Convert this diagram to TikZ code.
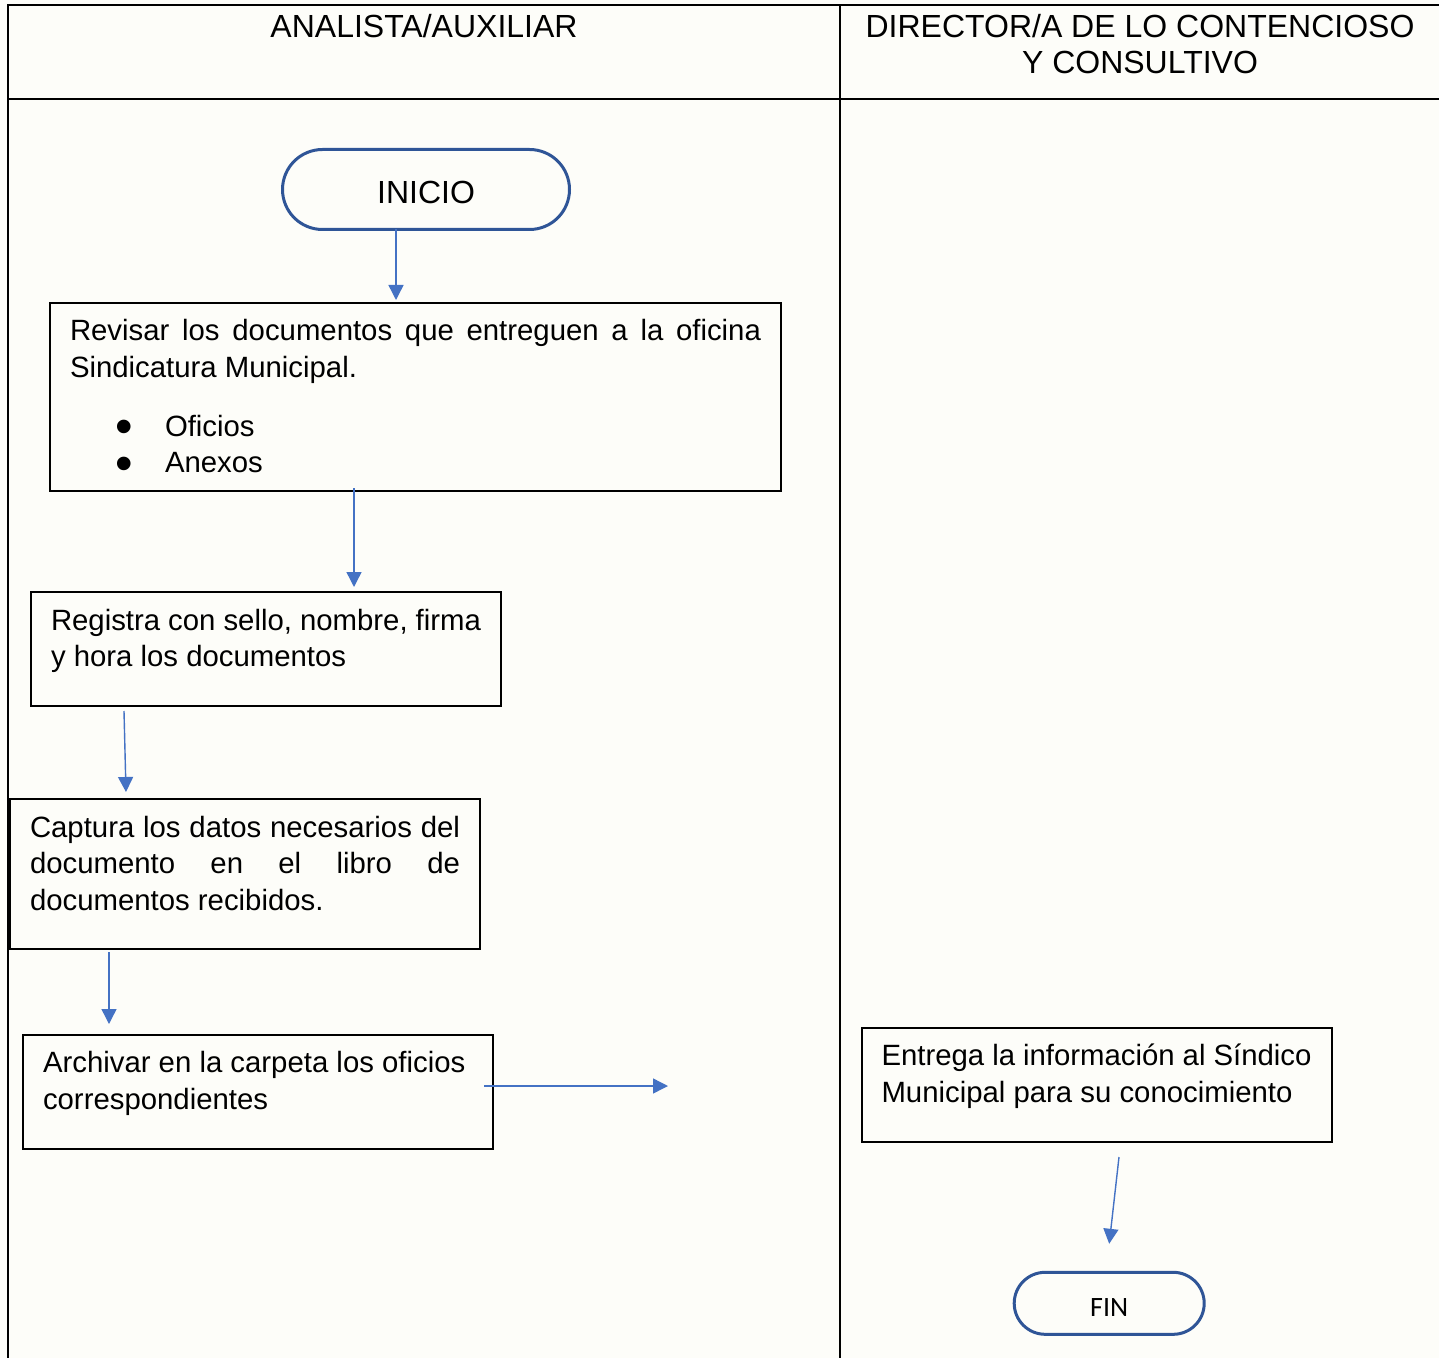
\documentclass[tikz,border=0pt]{standalone}
\usepackage{fontspec}
\setmainfont{Liberation Sans}
\newfontfamily\calfont{Carlito}
\usetikzlibrary{arrows.meta,calc}
\definecolor{bgcol}{RGB}{253,253,249}
\definecolor{arrowblue}{RGB}{68,114,196}
\definecolor{termblue}{RGB}{47,85,151}
\newcommand\procsize{\fontsize{14.67}{18.25}\selectfont}
\newcommand\procpar[3]{\parbox[t][#2][t]{#1}{\rule{0pt}{11pt}#3}}
\newcommand\bul{\makebox[47.5pt][l]{\hspace{22.6pt}\smash{\raisebox{-3.6pt}{\fontsize{25}{25}\selectfont\textbullet}}}}
\tikzset{
  lane/.style={draw=black, line width=1pt},
  procbox/.style={draw=black, line width=1pt, anchor=north west, inner xsep=10pt, inner ysep=8pt, font=\procsize},
  terminal/.style={draw=termblue, line width=1.5pt, inner sep=0pt},
  flow/.style={draw=arrowblue, line width=0.7pt, -{Triangle[length=7.5pt,width=7.5pt]}},
  header/.style={anchor=north, inner sep=0pt, align=center, font=\fontsize{16}{18}\selectfont}
}
\begin{document}
\begin{tikzpicture}[x=0.5pt,y=-0.5pt]
\useasboundingbox (0,0) rectangle (1439,1358);
\fill[bgcol] (0,0) rectangle (1439,1358);

% swimlane table
\draw[lane] (8,4.7) -- (1439,4.7);
\draw[lane] (8,99.5) -- (1439,99.5);
\draw[lane] (8,4.2) -- (8,1358);
\draw[lane] (840,4.2) -- (840,1358);

\node[header] (hdrA) at (424,13.5) {ANALISTA/AUXILIAR};
\node[header] (hdrB) at (1140,13.5) {DIRECTOR/A DE LO CONTENCIOSO\\Y CONSULTIVO};

% terminals
\node[terminal, minimum width=143.5pt, minimum height=40pt, rounded corners=20pt,
      text height=14.5pt, text depth=0pt,
      font=\fontsize{16}{18}\selectfont] (inicio) at (426,189.5) {INICIO};
\node[terminal, minimum width=95pt, minimum height=31pt, rounded corners=15.5pt,
      text height=12.7pt, text depth=0pt,
      font=\calfont\fontsize{14}{16}\selectfont] (fin) at (1109.2,1303.3) {FIN};

% process boxes
\node[procbox] (revisar) at (49,302) {\procpar{345.5pt}{78pt}{Revisar los documentos que entreguen a la oficina\linebreak Sindicatura Municipal.\\[11.25pt]\bul Oficios\\\bul Anexos}};
\node[procbox] (registra) at (30,591) {\procpar{215pt}{41pt}{Registra con sello, nombre, firma\\y hora los documentos}};
\node[procbox] (captura) at (9,798) {\procpar{215pt}{59pt}{Captura los datos necesarios del\linebreak documento en el libro de\linebreak documentos recibidos.}};
\node[procbox] (archivar) at (22,1033.5) {\procpar{215pt}{41pt}{Archivar en la carpeta los oficios\\correspondientes}};
\node[procbox] (entrega) at (860.5,1026.5) {\procpar{215pt}{41pt}{Entrega la información al Síndico\\Municipal para su conocimiento}};

\coordinate (archout) at (668,1086);

% connectors
\draw[flow] ($(inicio.south)+(-30,-2)$) -- ($(revisar.north west)+(347,-2)$);
\draw[flow] ($(revisar.south west)+(305,-4)$) -- ($(registra.north west)+(324,-4)$);
\draw[flow] ($(registra.south west)+(94,4)$) -- ($(captura.north west)+(117,-6)$);
\draw[flow] ($(captura.south west)+(100,2)$) -- ($(archivar.north west)+(87,-9.5)$);
\draw[flow] ($(archivar.north east)+(-10,52.5)$) -- (archout);
\draw[flow] ($(entrega.south west)+(258.5,14.5)$) -- ($(fin.north)+(0,-27)$);
\end{tikzpicture}
\end{document}
